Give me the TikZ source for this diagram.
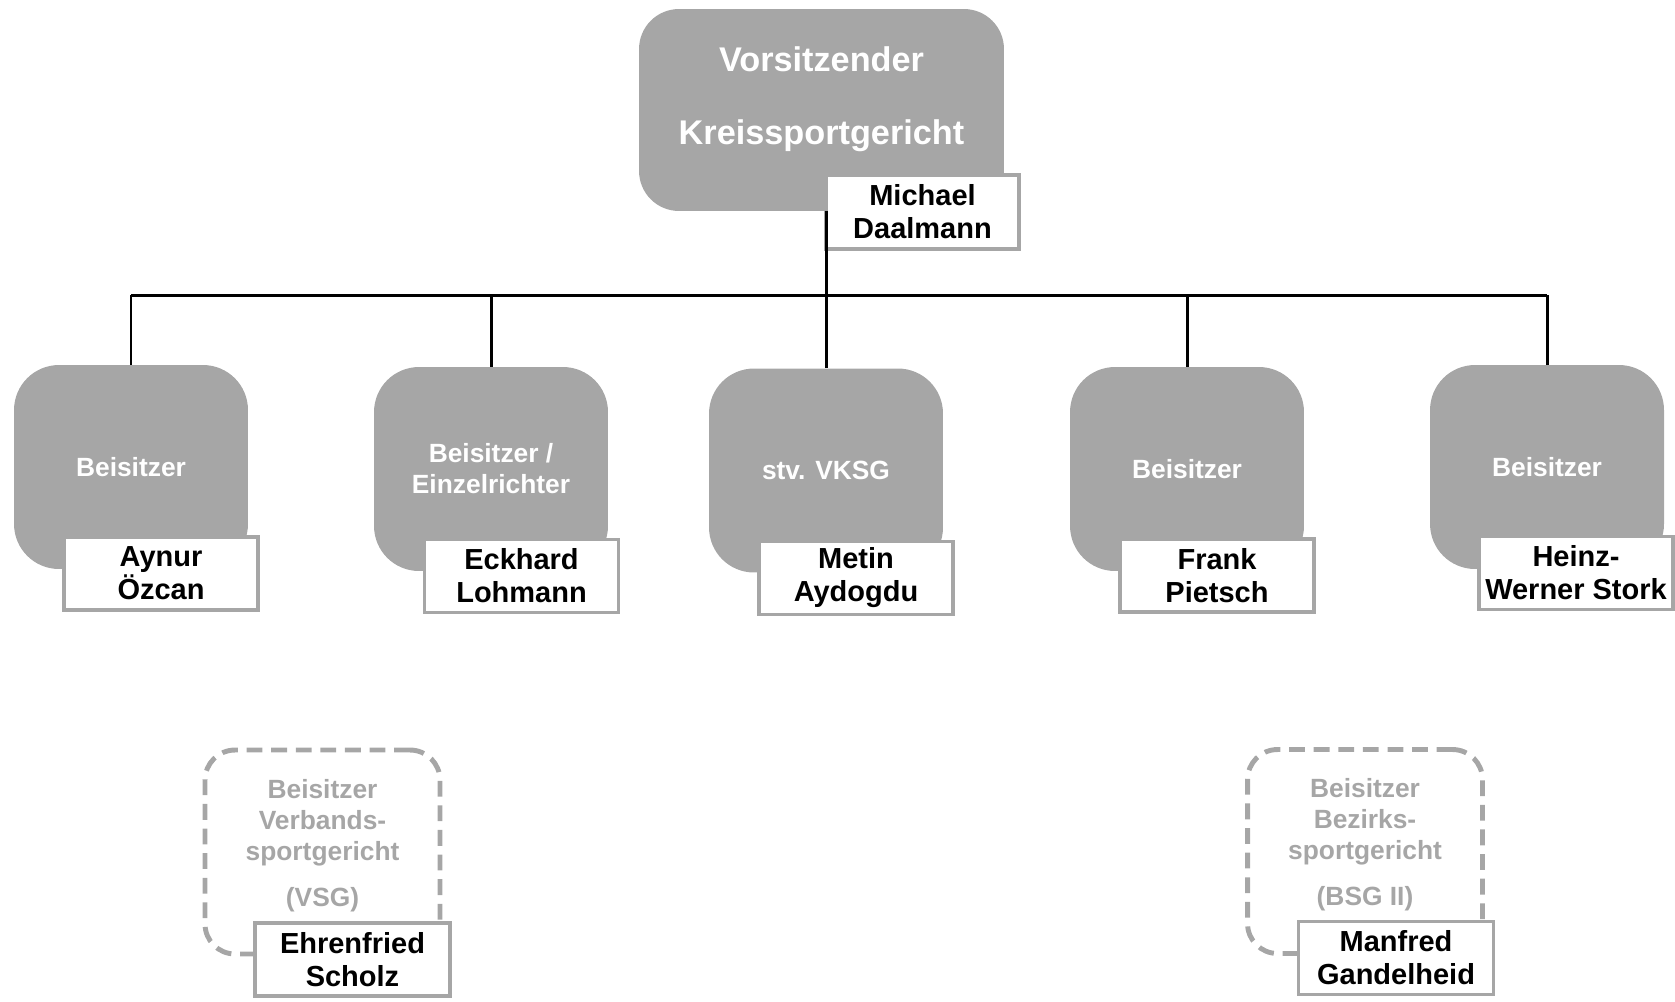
\documentclass[tikz,border=0pt]{standalone}
\usepackage{fontspec}
\setmainfont{Liberation Sans}
\definecolor{boxgray}{HTML}{A6A6A6}
\begin{document}
\begin{tikzpicture}[
    x=0.02cm, y=-0.02cm,
    role/.style={rectangle, fill=boxgray, text=white, rounded corners=0.9cm, minimum width=4.68cm, minimum height=4.08cm, align=center, font=\bfseries\fontsize{15}{17.6}\selectfont},
    head/.style={role, minimum width=7.3cm, minimum height=4.04cm, rounded corners=0.8cm, text depth=16pt, font=\bfseries\fontsize{19.5}{41.5}\selectfont},
    person/.style={rectangle, draw=boxgray, line width=2pt, fill=white, minimum width=3.88cm, minimum height=1.46cm, inner sep=1pt, align=center, font=\bfseries\fontsize{16.5}{18.8}\selectfont},
    extern/.style={rectangle, draw=boxgray, line width=2.8pt, dash pattern=on 9pt off 5pt, rounded corners=0.6cm, minimum width=4.7cm, minimum height=4.08cm, text=boxgray, text depth=10.5pt, align=center, font=\bfseries\fontsize{15}{17.6}\selectfont},
    line/.style={draw, line width=1.7pt}
    ]
    \useasboundingbox (0,0) rectangle (1675,1001);

    \node [head] (top) at (821.5,110) {Vorsitzender\\Kreissportgericht};
    \node [person, minimum width=3.86cm, minimum height=1.48cm] (topname) at (922.5,212) {Michael\\Daalmann};

    \node [role] (b1) at (131,467) {Beisitzer};
    \node [person] (n1) at (161,573.5) {Aynur\\Özcan};
    \node [role] (b2) at (491,469) {Beisitzer /\\Einzelrichter};
    \node [person] (n2) at (521.5,576) {Eckhard\\Lohmann};
    \node [role] (b3) at (826,470.5) {stv. VKSG};
    \node [person] (n3) at (856,578) {Metin\\Aydogdu};
    \node [role] (b4) at (1187,469) {Beisitzer};
    \node [person] (n4) at (1217,575.5) {Frank\\Pietsch};
    \node [role] (b5) at (1547,467) {Beisitzer};
    \node [person] (n5) at (1576,573) {Heinz-\\Werner Stork};

    \node [extern] (d1) at (322.5,852) {Beisitzer\\Verbands-\\sportgericht\\[8.5pt](VSG)};
    \node [person, minimum width=3.9cm] (dn1) at (352.5,959.5) {Ehrenfried\\Scholz};
    \node [extern] (d2) at (1365,851.5) {Beisitzer\\Bezirks-\\sportgericht\\[8.5pt](BSG II)};
    \node [person, minimum width=3.9cm] (dn2) at (1396,958) {Manfred\\Gandelheid};

    \coordinate (bus) at (0,295);
    \draw [line] (b3.north) -- (top.south -| b3.north);
    \draw [line] (b1.north |- bus) -- (b5.north |- bus);
    \foreach \b in {b1,b2,b4,b5}
        \draw [line] (\b.north) -- (\b.north |- bus);
\end{tikzpicture}
\end{document}
